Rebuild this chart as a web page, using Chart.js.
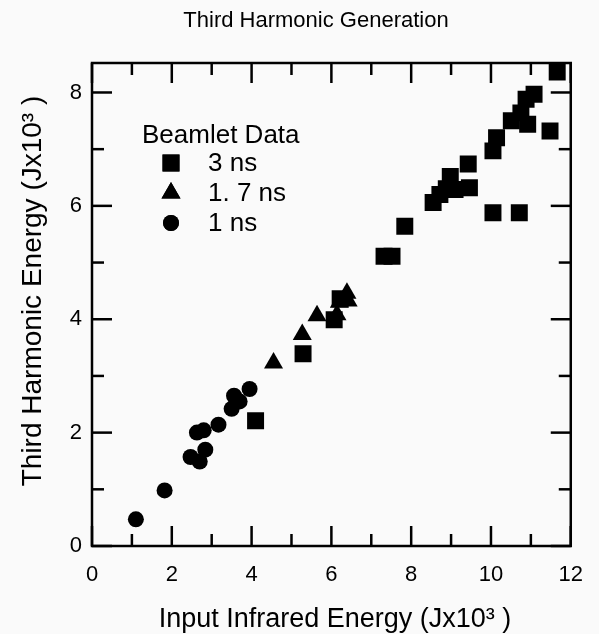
<!DOCTYPE html>
<html><head><meta charset="utf-8">
<script src="https://cdn.jsdelivr.net/npm/chart.js@4"></script>
<style>html,body{margin:0;padding:0;background:#fafafa;} #wrap{width:599px;height:634px;position:relative;}</style>
</head><body><div id="wrap"><canvas id="c" width="599" height="634"></canvas></div>
<script>
// ---- text ----
const chartTitle = "Third Harmonic Generation";
const xAxisTitle = "Input Infrared Energy (Jx10³ )";
const yAxisTitle = "Third Harmonic Energy (Jx10³ )";
const legendTitle = "Beamlet Data";
const seriesLabels = ["3 ns", "1. 7 ns", "1 ns"];

// ---- ticks ----
const xMajorTicks = [0, 2, 4, 6, 8, 10, 12];
const xMinorTicks = [1, 3, 5, 7, 9, 11];
const yMajorTicks = [0, 2, 4, 6, 8];
const yMinorTicks = [1, 3, 5, 7];
const xRange = [0, 12];
const yRange = [0, 8.52];

// ---- data (J x 10^3) ----
const ns3X = [4.10, 5.29, 6.07, 6.22, 7.32, 7.52, 7.84, 8.55, 8.72, 8.88, 8.98, 9.10, 9.46, 9.43, 10.05, 10.14, 10.05, 10.71, 10.51, 10.75, 10.92, 10.88, 11.08, 11.48, 11.66];
const ns3Y = [2.21, 3.39, 3.99, 4.36, 5.11, 5.11, 5.64, 6.06, 6.20, 6.30, 6.52, 6.29, 6.32, 6.74, 6.97, 7.20, 5.88, 5.88, 7.50, 7.64, 7.44, 7.88, 7.97, 7.32, 8.36];
const ns17X = [4.55, 5.27, 5.64, 6.14, 6.20, 6.39, 6.42];
const ns17Y = [3.23, 3.73, 4.06, 4.08, 4.30, 4.46, 4.32];
const ns1X = [1.10, 1.82, 2.47, 2.70, 2.84, 2.63, 2.80, 3.17, 3.50, 3.56, 3.70, 3.95];
const ns1Y = [0.47, 0.98, 1.57, 1.49, 1.70, 2.00, 2.04, 2.14, 2.42, 2.65, 2.55, 2.77];

const FONT = "'Liberation Sans', Arial, Helvetica, sans-serif";
const zip = (xs, ys) => xs.map((x, i) => ({x: x, y: ys[i]}));

const styles = [
  {pointStyle: 'rect', pointRadius: 12},
  {pointStyle: 'triangle', pointRadius: 11},
  {pointStyle: 'circle', pointRadius: 8}
];

const frameTicks = {
  id: 'frameTicks',
  afterDraw(chart) {
    const ctx = chart.ctx, a = chart.chartArea;
    const xs = chart.scales.x, ys = chart.scales.y;
    ctx.save();
    ctx.strokeStyle = '#000';
    ctx.lineWidth = 2.5;
    const tick = (x1, y1, x2, y2) => { ctx.beginPath(); ctx.moveTo(x1, y1); ctx.lineTo(x2, y2); ctx.stroke(); };
    const MAJ = 20, MIN = 12;
    xMajorTicks.forEach(v => { const p = xs.getPixelForValue(v); tick(p, a.bottom, p, a.bottom - MAJ); tick(p, a.top, p, a.top + MAJ); });
    xMinorTicks.forEach(v => { const p = xs.getPixelForValue(v); tick(p, a.bottom, p, a.bottom - MIN); tick(p, a.top, p, a.top + MIN); });
    yMajorTicks.forEach(v => { const p = ys.getPixelForValue(v); tick(a.left, p, a.left + MAJ, p); tick(a.right, p, a.right - MAJ, p); });
    yMinorTicks.forEach(v => { const p = ys.getPixelForValue(v); tick(a.left, p, a.left + MIN, p); tick(a.right, p, a.right - MIN, p); });
    ctx.lineWidth = 2.5;
    ctx.strokeRect(a.left, a.top, a.right - a.left, a.bottom - a.top);

    // titles
    ctx.fillStyle = '#000';
    ctx.textAlign = 'center';
    ctx.textBaseline = 'alphabetic';
    ctx.font = '22px ' + FONT;
    ctx.fillText(chartTitle, 316, 27);
    ctx.font = '27px ' + FONT;
    ctx.fillText(xAxisTitle, 335, 627);
    ctx.font = '28px ' + FONT;
    ctx.save();
    ctx.translate(41, 291);
    ctx.rotate(-Math.PI / 2);
    ctx.fillText(yAxisTitle, 0, 0);
    ctx.restore();

    // legend
    ctx.textAlign = 'left';
    ctx.textBaseline = 'middle';
    ctx.font = '26px ' + FONT;
    ctx.fillText(legendTitle, a.left + 50, a.top + 73);
    chart.data.datasets.forEach((ds, i) => {
      const cy = a.top + 100 + i * 30;
      Chart.helpers.drawPoint(ctx, {pointStyle: ds.pointStyle, radius: ds.pointRadius, borderWidth: 0}, a.left + 79, cy);
      ctx.fillStyle = '#000';
      ctx.fill();
      ctx.fillText(ds.label, a.left + 116, cy + 1);
    });
    ctx.restore();
  }
};

new Chart(document.getElementById('c'), {
  type: 'scatter',
  data: {
    datasets: [
      Object.assign({label: seriesLabels[0], data: zip(ns3X, ns3Y)}, styles[0]),
      Object.assign({label: seriesLabels[1], data: zip(ns17X, ns17Y)}, styles[1]),
      Object.assign({label: seriesLabels[2], data: zip(ns1X, ns1Y)}, styles[2])
    ].map(d => Object.assign(d, {backgroundColor: '#000', borderColor: '#000', borderWidth: 0, pointHoverRadius: d.pointRadius}))
  },
  plugins: [frameTicks],
  options: {
    responsive: false,
    animation: false,
    layout: {padding: {left: 0, right: 22, top: 63, bottom: 0}},
    plugins: {legend: {display: false}, title: {display: false}, tooltip: {enabled: false}},
    scales: {
      x: {
        type: 'linear', min: xRange[0], max: xRange[1],
        afterBuildTicks: s => { s.ticks = xMajorTicks.map(v => ({value: v})); },
        afterFit: s => { s.height = 88; },
        grid: {display: false, drawTicks: false},
        border: {display: false},
        ticks: {color: '#000', font: {family: FONT, size: 22}, padding: 16, maxRotation: 0}
      },
      y: {
        type: 'linear', min: yRange[0], max: yRange[1],
        afterBuildTicks: s => { s.ticks = yMajorTicks.map(v => ({value: v})); },
        afterFit: s => { s.width = 92; },
        grid: {display: false, drawTicks: false},
        border: {display: false},
        ticks: {color: '#000', font: {family: FONT, size: 22}, padding: 10}
      }
    }
  }
});
</script></body></html>
